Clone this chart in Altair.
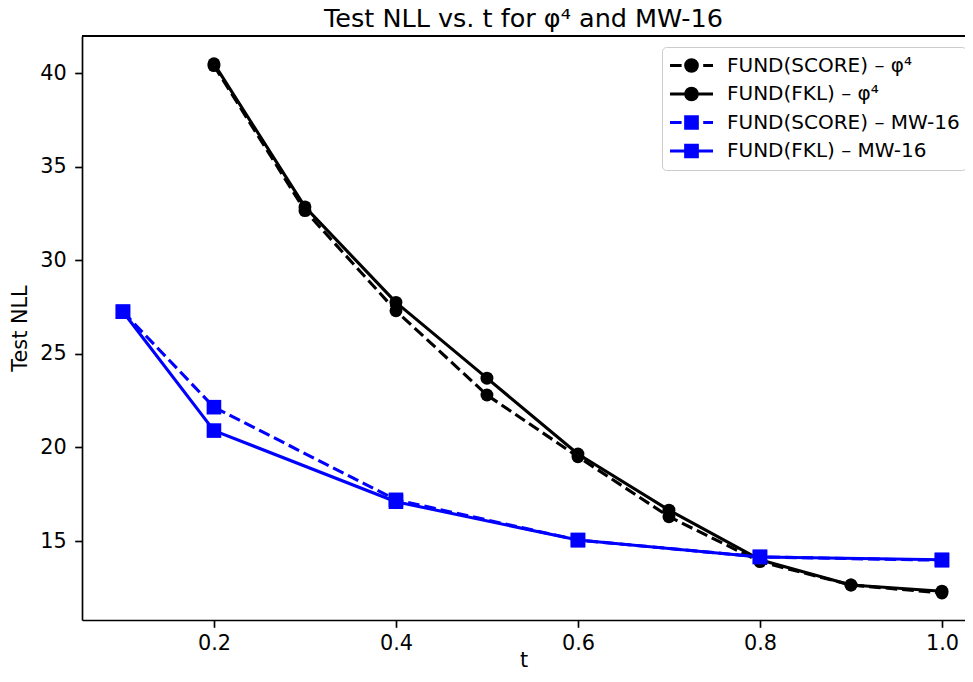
import altair as alt
import pandas as pd

# ---- data ----
t_phi = [0.2, 0.3, 0.4, 0.5, 0.6, 0.7, 0.8, 0.9, 1.0]
phi_score = [40.4, 32.65, 27.3, 22.8, 19.5, 16.3, 13.9, 12.65, 12.22]
phi_fkl = [40.5, 32.85, 27.75, 23.7, 19.65, 16.65, 14.0, 12.65, 12.32]
t_mw = [0.1, 0.2, 0.4, 0.6, 0.8, 1.0]
mw_score = [27.25, 22.15, 17.2, 15.05, 14.15, 13.97]
mw_fkl = [27.25, 20.9, 17.1, 15.05, 14.15, 14.0]

series_names = [
    "FUND(SCORE) – φ⁴",
    "FUND(FKL) – φ⁴",
    "FUND(SCORE) – MW-16",
    "FUND(FKL) – MW-16",
]
series_colors = ["#000000", "#000000", "#0000ff", "#0000ff"]
series_dashed = [True, False, True, False]
series_shape = ["circle", "circle", "square", "square"]
x_ticks = [0.2, 0.4, 0.6, 0.8, 1.0]
y_ticks = [15, 20, 25, 30, 35, 40]
y_domain = [10.78, 41.98]

rows = []
for name, ts, vs in [
    (series_names[0], t_phi, phi_score),
    (series_names[1], t_phi, phi_fkl),
    (series_names[2], t_mw, mw_score),
    (series_names[3], t_mw, mw_fkl),
]:
    for t, v in zip(ts, vs):
        rows.append({"series": name, "t": t, "nll": v})
df = pd.DataFrame(rows)

FONT = "DejaVu Sans"
LW = 3.1
DASH = [11.6, 5.0]
FS = 20.8

x_scale = alt.Scale(domain=[0.055, 1.02533], nice=False, zero=False)
y_scale = alt.Scale(domain=y_domain, nice=False, zero=False)

x_enc = alt.X("t:Q", scale=x_scale,
              axis=alt.Axis(values=x_ticks, format=".1f", title="t", titlePadding=-3,
                            labelPadding=6.5))
y_enc = alt.Y("nll:Q", scale=y_scale,
              axis=alt.Axis(values=y_ticks, format="d", title="Test NLL", titlePadding=9,
                            labelPadding=8.5))

base = alt.Chart(df).encode(x=x_enc, y=y_enc)

layers = []
for name, col, dashed, shp in zip(series_names, series_colors, series_dashed, series_shape):
    sub = base.transform_filter(alt.datum.series == name)
    line_kw = dict(color=col, strokeWidth=LW, strokeJoin="round")
    if dashed:
        line_kw["strokeDash"] = DASH
    layers.append(sub.mark_line(**line_kw))
    size = 167 if shp == "circle" else 213
    layers.append(
        sub.mark_point(shape=shp, filled=True, color=col, size=size, opacity=1, strokeWidth=0)
    )

# top spine of the axes box, placed through the y scale at its upper limit
top_spine = alt.Chart(df).mark_rule(color="black", strokeWidth=1.67).encode(
    y=alt.datum(y_domain[1], scale=y_scale)
)

# legend: custom symbols combining line handle and marker
r = 0.27
circ = f"M-{r},0 A{r},{r} 0 1,0 {r},0 A{r},{r} 0 1,0 -{r},0 Z"
sq = f"M-{r},-{r} H{r} V{r} H-{r} Z"
dash_line = "M-1,0 H-0.46 M0.544,0 H1"
solid_line = "M-1,0 H1"
legend_paths = [
    dash_line + " " + circ,
    solid_line + " " + circ,
    dash_line + " " + sq,
    solid_line + " " + sq,
]

leg = alt.Legend(
    title=None,
    orient="none",
    legendX=580,
    legendY=11,
    symbolSize=1849,
    symbolStrokeWidth=LW,
    symbolOpacity=1,
    clipHeight=25,
    rowPadding=3.5,
    padding=6,
    labelFont=FONT,
    labelFontSize=20,
    labelColor="black",
    labelOffset=12,
    labelLimit=400,
    fillColor="rgba(255,255,255,0.8)",
    strokeColor="#cccccc",
    cornerRadius=4,
)

legend_layer = (
    alt.Chart(df)
    .transform_filter("false")
    .mark_point(opacity=1, strokeWidth=LW, size=1849, filled=True)
    .encode(
        fill=alt.Fill("series:N", scale=alt.Scale(domain=series_names, range=series_colors), legend=leg),
        stroke=alt.Stroke("series:N", scale=alt.Scale(domain=series_names, range=series_colors), legend=leg),
        shape=alt.Shape("series:N", scale=alt.Scale(domain=series_names, range=legend_paths), legend=leg),
    )
)

chart = (
    alt.layer(*layers, top_spine, legend_layer)
    .properties(
        width=883,
        height=584,
        autosize=alt.AutoSizeParams(type="none"),
        padding={"left": 74, "top": 28, "right": 0, "bottom": 54},
        title=alt.Title(
            "Test NLL vs. t for φ⁴ and MW-16",
            font=FONT,
            fontSize=25.5,
            fontWeight="normal",
            color="black",
            anchor="middle",
            offset=3,
        ),
        background="white",
    )
    .configure_view(strokeWidth=0)
    .configure_axis(
        grid=False,
        domain=True,
        domainColor="black",
        domainWidth=1.67,
        tickColor="black",
        tickWidth=1.67,
        tickSize=7.3,
        labelFont=FONT,
        labelFontSize=FS,
        labelColor="black",
        titleFont=FONT,
        titleFontSize=FS,
        titleFontWeight="normal",
        titleColor="black",
    )
)

chart.save("out.html", embed_options={"renderer": "svg", "actions": False})
